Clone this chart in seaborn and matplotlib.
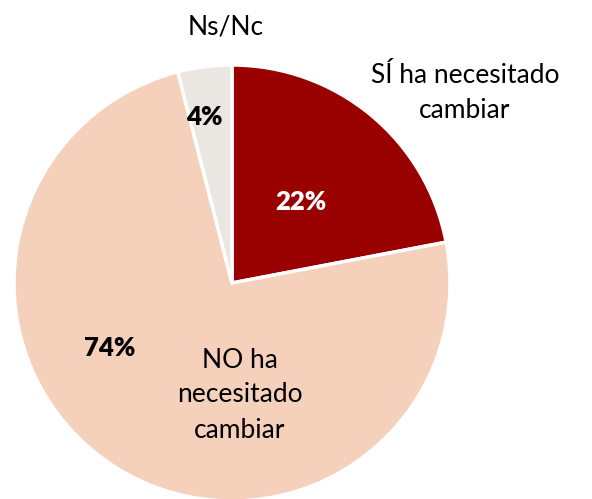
import matplotlib
matplotlib.use("Agg")
import matplotlib.pyplot as plt
import seaborn as sns

# Data
categories = ["SÍ ha necesitado\ncambiar", "NO ha\nnecesitado\ncambiar", "Ns/Nc"]
shares = [22, 74, 4]
pct_labels = ["22%", "74%", "4%"]
colors = ["#990000", "#F5D0BA", "#EAE6E1"]

sns.set_theme(style="white")
plt.rcParams["font.family"] = ["Lato", "DejaVu Sans"]

W, H = 592, 499
fig = plt.figure(figsize=(W / 100, H / 100), dpi=100)
ax = fig.add_axes([0, 0, 1, 1])

cx, cy, r = 232, H - 283, 218
ax.pie(shares, colors=colors, startangle=90, counterclock=False,
       center=(cx, cy), radius=r, frame=True,
       wedgeprops=dict(edgecolor="white", linewidth=2.5))
ax.set_xlim(0, W)
ax.set_ylim(0, H)
ax.set_aspect("equal")
ax.axis("off")

# Percent labels
pct_pos = [(301, 202), (110, 348), (204, 117)]
pct_col = ["white", "black", "black"]
for txt, (x, y), c in zip(pct_labels, pct_pos, pct_col):
    ax.text(x, H - y, txt, ha="center", va="center", fontsize=18.5,
            fontweight="heavy", color=c)

# Category labels
cat_pos = [(465, 93), (240, 395), (226, 27)]
for txt, (x, y) in zip(categories, cat_pos):
    ax.text(x, H - y, txt, ha="center", va="center", fontsize=19,
            color="black", linespacing=1.5)

fig.savefig("out.png", dpi=100)
